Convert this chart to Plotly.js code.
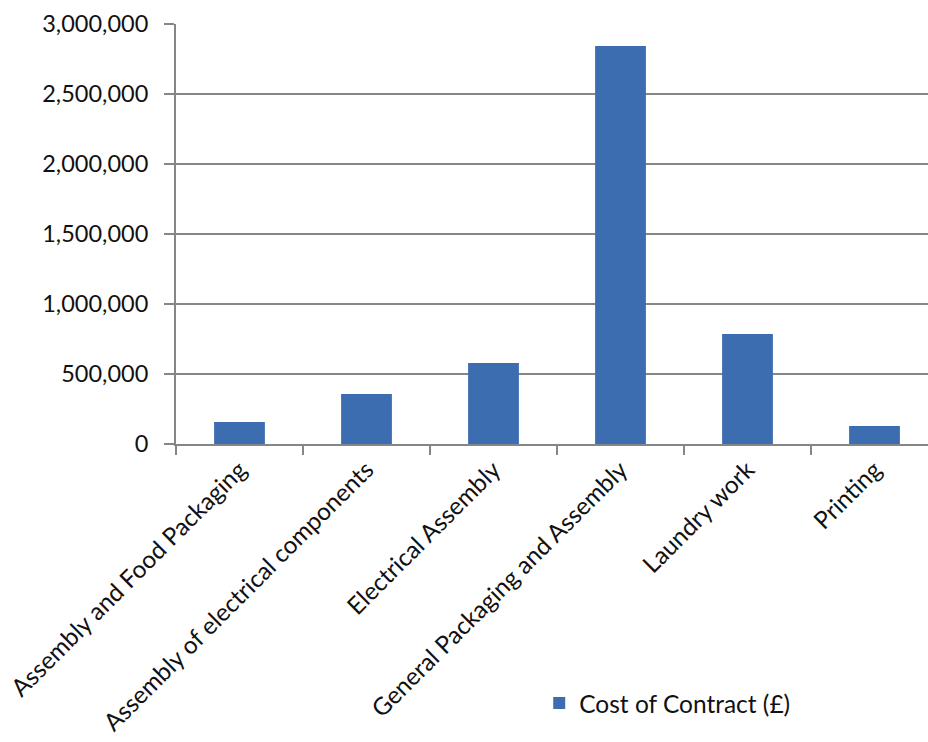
<!DOCTYPE html>
<html>
<head>
<meta charset="utf-8">
<script src="https://cdn.plot.ly/plotly-3.0.1.min.js"></script>
<style>html,body{margin:0;padding:0;background:#fff;}#chart{width:928px;height:742px;}</style>
</head>
<body>
<div id="chart"></div>
<script>
const categories = [
  "Assembly and Food Packaging",
  "Assembly of electrical components",
  "Electrical Assembly",
  "General Packaging and Assembly",
  "Laundry work",
  "Printing"
];
const costOfContract = [157000, 357000, 579000, 2843000, 786000, 129000];
const seriesName = "Cost of Contract (£)";
const yTickVals = [0, 500000, 1000000, 1500000, 2000000, 2500000, 3000000];

const fontFamily = "Lato, 'Open Sans', sans-serif";
const gridGray = "#868686";

const trace = {
  type: "bar",
  x: categories,
  y: costOfContract,
  name: seriesName,
  marker: {color: "#3C6DB0"},
  showlegend: true,
  hoverinfo: "x+y"
};

const layout = {
  width: 928,
  height: 742,
  margin: {l: 176, r: 0, t: 24, b: 298, pad: 0},
  paper_bgcolor: "#ffffff",
  plot_bgcolor: "#ffffff",
  font: {family: fontFamily, size: 24, color: "#111111"},
  bargap: 0.6,
  showlegend: true,
  legend: {
    orientation: "h",
    x: 0.483, xanchor: "left",
    y: -0.617, yanchor: "middle",
    font: {family: fontFamily, size: 24.5, color: "#111111"},
    bgcolor: "rgba(0,0,0,0)"
  },
  xaxis: {
    type: "category",
    range: [-0.5, -0.5 + 752 / 127],
    showline: true, linecolor: gridGray, linewidth: 2,
    ticks: "outside", tickson: "boundaries", ticklen: 9, tickcolor: gridGray, tickwidth: 2,
    tickangle: -45,
    tickfont: {family: fontFamily, size: 24.3, color: "#111111"},
    showgrid: false,
    automargin: false
  },
  yaxis: {
    range: [0, 3000000],
    tickvals: yTickVals,
    tickformat: ",d",
    showline: true, linecolor: gridGray, linewidth: 2,
    ticks: "outside", ticklen: 10, tickcolor: gridGray, tickwidth: 1.5,
    showgrid: true, gridcolor: gridGray, gridwidth: 1.5,
    zeroline: false,
    tickfont: {family: fontFamily, size: 23.5, color: "#111111"},
    ticklabelstandoff: 11,
    automargin: false
  }
};

Plotly.newPlot("chart", [trace], layout, {displayModeBar: false, staticPlot: true});
</script>
</body>
</html>
